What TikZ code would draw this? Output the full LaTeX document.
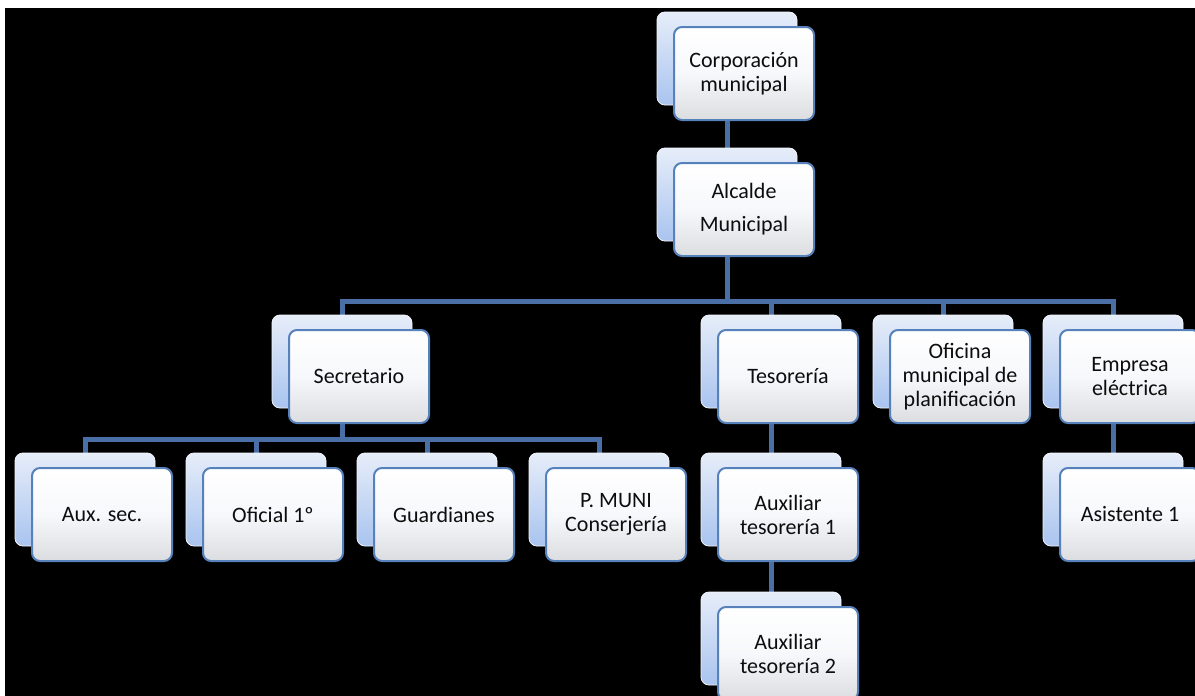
\documentclass[tikz,border=0pt]{standalone}
\usepackage{fontspec}
\setmainfont{Carlito}
\usetikzlibrary{calc}
\definecolor{connColor}{HTML}{4A6EA6}
\definecolor{frontBorder}{HTML}{5681BB}
\definecolor{backTop}{HTML}{E6EDF9}
\definecolor{backBot}{HTML}{A9C4EF}
\definecolor{backBorder}{HTML}{F2F5FB}
\definecolor{frontBot}{HTML}{DCDDE0}
\definecolor{frontMid}{HTML}{F7F8FB}
\pgfdeclarelayer{bglayer}
\pgfdeclarelayer{linelayer}
\pgfsetlayers{bglayer,linelayer,main}
\tikzset{
  backbox/.style={draw=backBorder, line width=0.8pt, rounded corners=8pt,
    minimum width=140pt, minimum height=93pt, inner sep=0pt,
    top color=backTop, bottom color=backBot},
  frontbox/.style={draw=frontBorder, line width=2pt, rounded corners=8pt,
    minimum width=140pt, minimum height=93pt, inner sep=0pt,
    top color=white, bottom color=frontBot, middle color=frontMid,
    align=center, text=black!95, font=\fontsize{22}{24}\selectfont},
  conn/.style={draw=connColor, line width=5pt},
}
\newcommand\OrgPair[4]{%
  \node[backbox] (#1B) at (#2,#3) {};
  \node[frontbox, xshift=17pt, yshift=-15pt] (#1) at (#2,#3) {#4};
}
\begin{document}
\begin{tikzpicture}[x=1pt,y=-1pt]
\useasboundingbox (0,0) rectangle (1195,696);
\clip (0,0) rectangle (1195,696);
\begin{pgfonlayer}{bglayer}
  \fill[white] (0,0) rectangle (1195,696);
  \fill[black] (5,8) rectangle (1195,696);
\end{pgfonlayer}
% level 0 and 1
\OrgPair{corp}{727}{58.5}{Corporación\\municipal}
\OrgPair{alc}{727}{194.5}{Alcalde\\[9pt]Municipal}
% level 2
\OrgPair{sec}{342}{361.5}{Secretario}
\OrgPair{tes}{771}{361.5}{Tesorería}
\OrgPair{ofi}{943}{361.5}{Oficina\\municipal de\\planificación}
\OrgPair{emp}{1113}{361.5}{Empresa\\eléctrica}
% level 3
\OrgPair{aux}{85}{499.5}{Aux. sec.}
\OrgPair{ofc}{256}{499.5}{Oficial 1º}
\OrgPair{gua}{427}{499.5}{Guardianes}
\OrgPair{pmu}{599}{499.5}{P. MUNI\\Conserjería}
\OrgPair{at1}{771}{499.5}{Auxiliar\\tesorería 1}
\OrgPair{asi}{1113}{499.5}{Asistente 1}
% level 4
\OrgPair{at2}{771}{638.5}{Auxiliar\\tesorería 2}
% connectors
\coordinate (busA) at (0,301);
\coordinate (busB) at (0,439);
\begin{pgfonlayer}{linelayer}
  \draw[conn] (corpB.center) -- (alcB.center);
  \draw[conn] (alcB.center) |- (secB.center |- busA) -- (secB.center);
  \draw[conn] (alcB.center) |- (empB.center |- busA) -- (empB.center);
  \draw[conn] (tesB.center |- busA) -- (tesB.center);
  \draw[conn] (ofiB.center |- busA) -- (ofiB.center);
  \draw[conn] (secB.center) |- (auxB.center |- busB) -- (auxB.center);
  \draw[conn] (secB.center) |- (pmuB.center |- busB) -- (pmuB.center);
  \draw[conn] (ofcB.center |- busB) -- (ofcB.center);
  \draw[conn] (guaB.center |- busB) -- (guaB.center);
  \draw[conn] (tesB.center) -- (at1B.center);
  \draw[conn] (at1B.center) -- (at2B.center);
  \draw[conn] (empB.center) -- (asiB.center);
\end{pgfonlayer}
\end{tikzpicture}
\end{document}
